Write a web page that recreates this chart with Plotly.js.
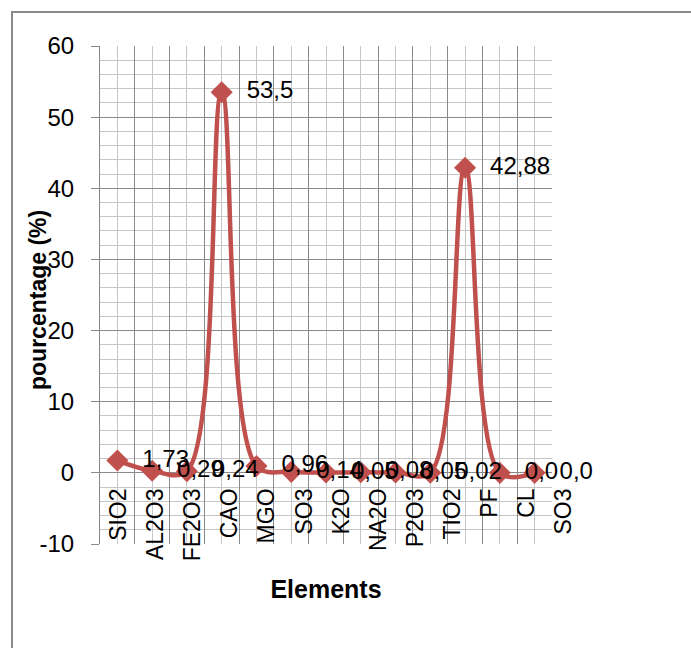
<!DOCTYPE html>
<html>
<head>
<meta charset="utf-8">
<script src="https://cdn.plot.ly/plotly-3.0.1.min.js"></script>
<style>
  html, body { margin: 0; padding: 0; background: #ffffff; }
  #wrap { position: relative; width: 691px; height: 648px; overflow: hidden; }
  #chart { width: 691px; height: 648px; }
  #frame { position: absolute; left: 11px; top: 11px; width: 800px; height: 800px;
           border-left: 2px solid #8a8a8a; border-top: 2px solid #8a8a8a; pointer-events: none; }
</style>
</head>
<body>
<div id="wrap">
  <div id="chart"></div>
  <div id="frame"></div>
</div>
<script>
// ---- data ----
const categories = ["SIO2", "AL2O3", "FE2O3", "CAO", "MGO", "SO3", "K2O", "NA2O", "P2O3", "TIO2", "PF", "CL", "SO3"];
const values = [1.73, 0.29, 0.24, 53.5, 0.96, 0.14, 0.05, 0.08, 0.05, 0.02, 42.88, 0.0, 0.0];
const valueLabels = ["1,73", "0,29", "0,24", "53,5", "0,96", "0,14", "0,05", "0,08", "0,05", "0,02", "42,88", "0,0", "0,0"];
const yTicks = [-10, 0, 10, 20, 30, 40, 50, 60];

const idx = categories.map((c, i) => i);
const red = "#C0504D";
const majorGrid = "#8a8a8a";
const minorGrid = "#c6c6c6";
const font = "Liberation Sans, Arial, sans-serif";
const pad = "\u00a0\u00a0";

const traces = [
  {
    x: idx,
    y: values,
    type: "scatter",
    mode: "lines+markers+text",
    line: { color: red, width: 4.5, shape: "spline", smoothing: 1.0 },
    marker: { symbol: "diamond", size: 17, color: red, line: { width: 0 } },
    text: valueLabels.map(t => pad + t),
    textposition: "middle right",
    textfont: { family: font, size: 24, color: "#000000" },
    cliponaxis: false,
    hoverinfo: "skip",
    showlegend: false
  },
  {
    // carrier for the category-label axis (draws nothing itself)
    x: idx,
    y: values,
    xaxis: "x2",
    yaxis: "y2",
    type: "scatter",
    mode: "none",
    hoverinfo: "skip",
    showlegend: false
  }
];

const layout = {
  width: 691,
  height: 648,
  margin: { l: 100, r: 91, t: 46, b: 104 },
  paper_bgcolor: "#ffffff",
  plot_bgcolor: "rgba(0,0,0,0)",
  showlegend: false,
  font: { family: font, size: 24, color: "#000000" },
  xaxis: {
    domain: [0, 452 / 500],
    range: [-0.5, categories.length - 0.5],
    tickmode: "linear",
    tick0: -0.5,
    dtick: 1,
    showticklabels: false,
    ticks: "",
    showgrid: true,
    gridcolor: majorGrid,
    gridwidth: 1,
    zeroline: false,
    showline: false,
    minor: { tick0: 0, dtick: 1, showgrid: true, gridcolor: minorGrid, gridwidth: 1, ticks: "" },
    title: { text: "<b>Elements</b>", font: { family: font, size: 25, color: "#000000" }, standoff: 36 },
    fixedrange: true
  },
  xaxis2: {
    anchor: "free",
    position: 10 / 70,
    domain: [0, (categories.length * 37.1) / 500],
    range: [-0.5, categories.length - 0.5],
    tickmode: "array",
    tickvals: idx,
    ticktext: categories,
    tickangle: -90,
    ticks: "",
    ticklabelstandoff: 10,
    tickfont: { family: font, size: 23, color: "#000000" },
    showgrid: false,
    zeroline: false,
    showline: false,
    fixedrange: true
  },
  yaxis2: {
    anchor: "x2",
    domain: [0, 1],
    range: [-10, 60],
    visible: false,
    showgrid: false,
    zeroline: false,
    fixedrange: true
  },
  yaxis: {
    range: [-10, 60],
    tickmode: "array",
    tickvals: yTicks,
    ticktext: yTicks.map(String),
    ticks: "outside",
    ticklen: 8,
    tickwidth: 1,
    tickcolor: majorGrid,
    ticklabelstandoff: 12,
    tickfont: { family: font, size: 24, color: "#000000" },
    showgrid: true,
    gridcolor: majorGrid,
    gridwidth: 1,
    zeroline: false,
    showline: true,
    linecolor: majorGrid,
    linewidth: 1,
    minor: { dtick: 2, tick0: 0, showgrid: true, gridcolor: minorGrid, gridwidth: 1, ticks: "" },
    fixedrange: true
  },
  annotations: [
    {
      text: "<b>pourcentage (%)</b>",
      xref: "paper", yref: "paper",
      x: 0, y: 0.5,
      xshift: -62, yshift: -5,
      xanchor: "center", yanchor: "middle",
      textangle: -90,
      showarrow: false,
      font: { family: font, size: 23, color: "#000000" }
    }
  ]
};

Plotly.newPlot("chart", traces, layout, { displayModeBar: false, staticPlot: true });
</script>
</body>
</html>
